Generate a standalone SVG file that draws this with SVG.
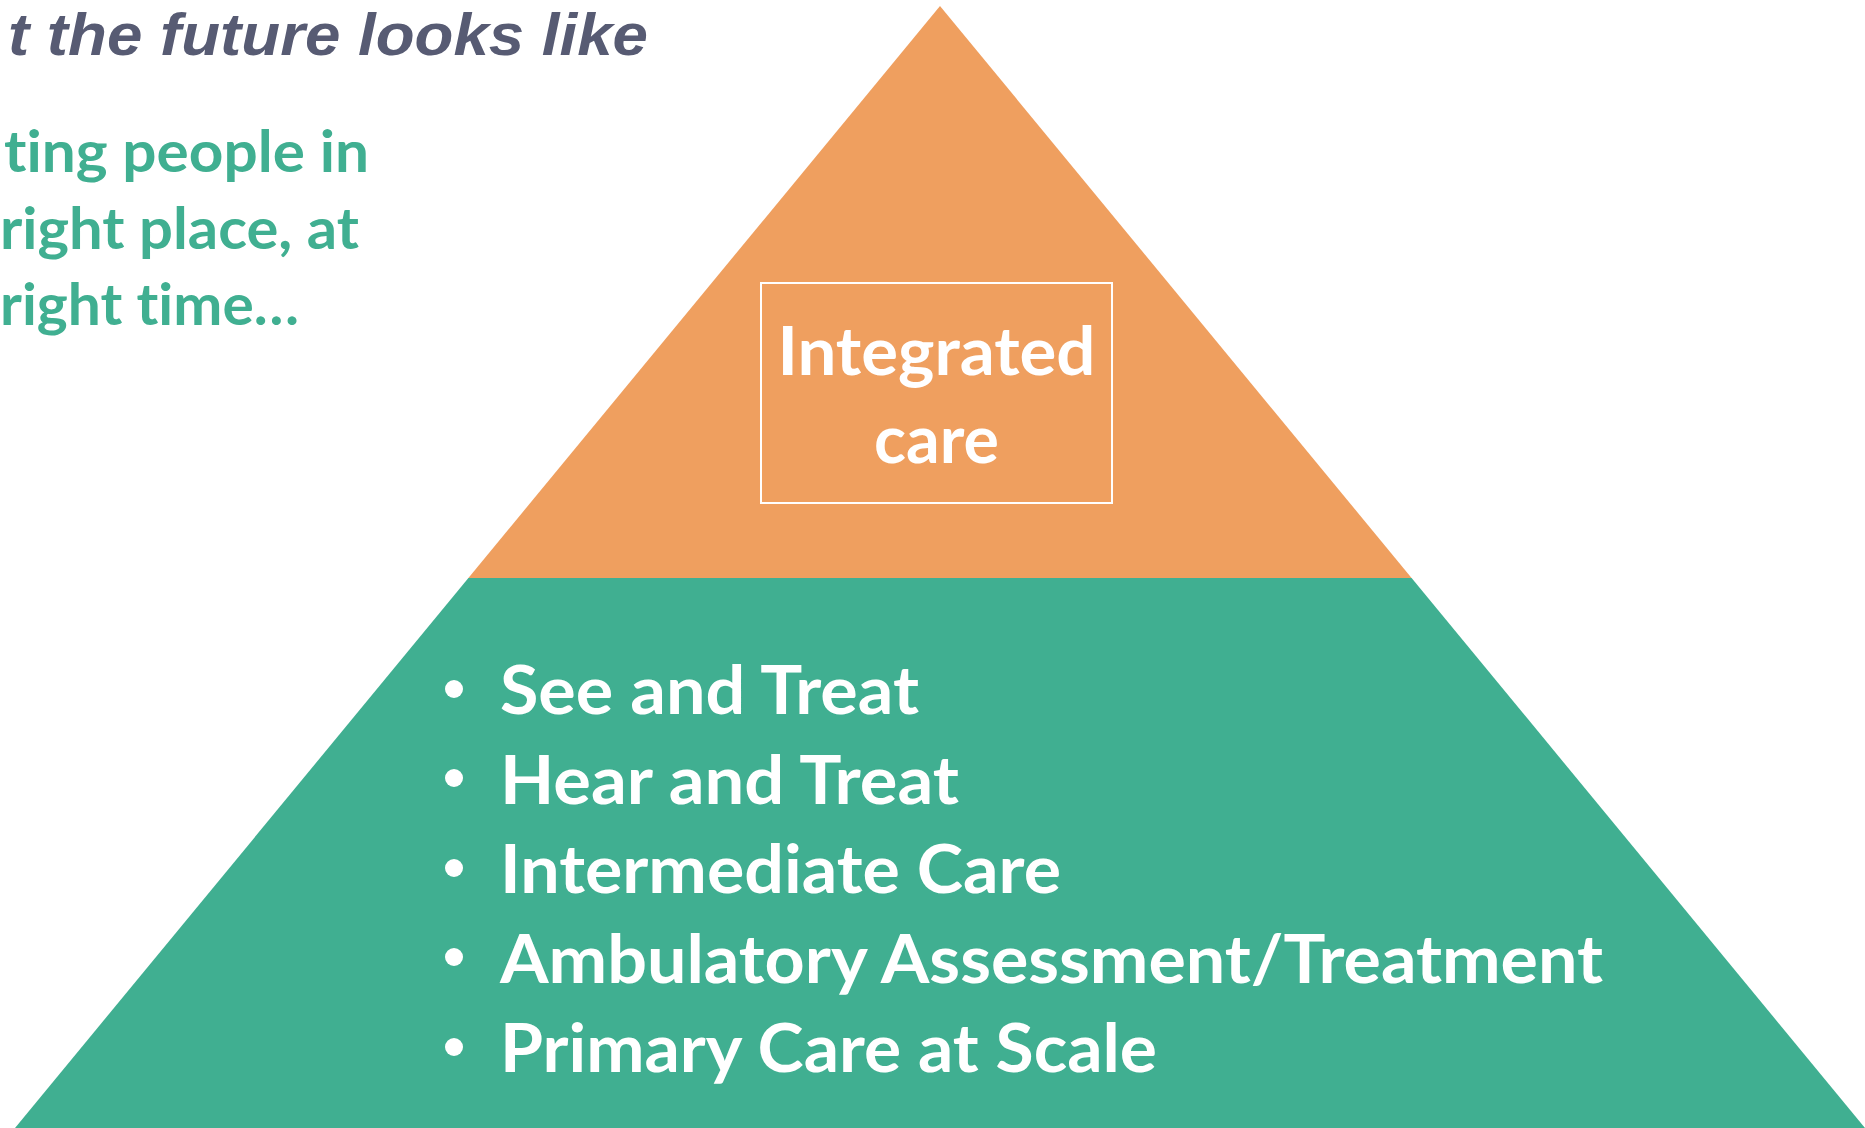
<svg xmlns="http://www.w3.org/2000/svg" width="1865" height="1128" viewBox="0 0 1865 1128">
<style>
.title{font-family:"Liberation Sans",Arial,sans-serif;font-weight:bold;font-style:italic;font-size:60px;fill:#575B73}
.tag{font-family:Lato,"Open Sans",sans-serif;font-weight:bold;font-size:58px;fill:#40AF91;font-variant-ligatures:none}
.wt{font-family:Lato,"Open Sans",sans-serif;font-weight:bold;font-size:67px;fill:#FFFFFF;font-variant-ligatures:none}
.dot{fill:#FFFFFF}
</style>
<rect x="0" y="0" width="1865" height="1128" fill="#FFFFFF"/>
<g id="title">
<text class="title" x="8" y="55" textLength="640" lengthAdjust="spacingAndGlyphs">t the future looks like</text>
</g>
<g id="tagline">
<text class="tag" x="4" y="172" textLength="365" lengthAdjust="spacingAndGlyphs">ting people in</text>
<text class="tag" x="0" y="249" textLength="359" lengthAdjust="spacingAndGlyphs">right place, at</text>
<text class="tag" x="0" y="325" textLength="299" lengthAdjust="spacingAndGlyphs">right time…</text>
</g>
<g id="pyramid-base">
<polygon points="468.4,578 1411.6,578 1865,1128 15,1128" fill="#40AF91"/>
</g>
<g id="pyramid-top">
<polygon points="940,6 1411.6,578 468.4,578" fill="#EF9F5F"/>
</g>
<g id="integrated-care">
<rect x="761" y="283" width="351" height="220" fill="none" stroke="#FFFFFF" stroke-width="2"/>
<text class="wt" x="936.5" y="375" text-anchor="middle" textLength="318" lengthAdjust="spacingAndGlyphs">Integrated</text>
<text class="wt" x="936.5" y="463" text-anchor="middle" textLength="125" lengthAdjust="spacingAndGlyphs">care</text>
</g>
<g id="services">
<circle class="dot" cx="454" cy="689" r="9"/>
<circle class="dot" cx="454" cy="778" r="9"/>
<circle class="dot" cx="454" cy="868" r="9"/>
<circle class="dot" cx="454" cy="957" r="9"/>
<circle class="dot" cx="454" cy="1047" r="9"/>
<text class="wt" x="500" y="714" textLength="419" lengthAdjust="spacingAndGlyphs">See and Treat</text>
<text class="wt" x="500" y="804" textLength="459" lengthAdjust="spacingAndGlyphs">Hear and Treat</text>
<text class="wt" x="500" y="893" textLength="561" lengthAdjust="spacingAndGlyphs">Intermediate Care</text>
<text class="wt" x="500" y="983" textLength="1103" lengthAdjust="spacingAndGlyphs">Ambulatory Assessment/Treatment</text>
<text class="wt" x="500" y="1072" textLength="657" lengthAdjust="spacingAndGlyphs">Primary Care at Scale</text>
</g>
<g id="connectors"></g>
</svg>
